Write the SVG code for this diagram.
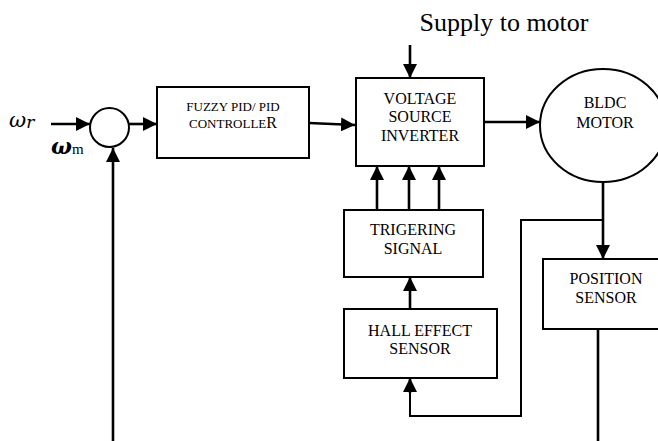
<svg xmlns="http://www.w3.org/2000/svg" width="658" height="441" viewBox="0 0 658 441">
<style>
.box{fill:#fff;stroke:#000;stroke-width:2}
.t{font-family:"Liberation Serif","Times New Roman",serif;fill:#000;text-anchor:middle}
.m16{font-size:16px}
.m13{font-size:13px}
.ln{fill:none;stroke:#000;stroke-width:2.6}
.thin{fill:none;stroke:#000;stroke-width:2}
</style>
<defs>
<marker id="ah" markerUnits="userSpaceOnUse" markerWidth="14" markerHeight="14" refX="14" refY="7" orient="auto" viewBox="0 0 14 14">
<path d="M0,0 L14,7 L0,14 z" fill="#000"/>
</marker>
</defs>
<rect width="658" height="441" fill="#fff"/>

<g id="connectors">
<line class="ln" x1="51" y1="124" x2="90" y2="124" marker-end="url(#ah)"/>
<line class="ln" x1="129" y1="124" x2="157" y2="124" marker-end="url(#ah)"/>
<line class="ln" x1="309" y1="123" x2="355" y2="125" marker-end="url(#ah)"/>
<line class="ln" x1="410" y1="45" x2="410" y2="78" marker-end="url(#ah)"/>
<line class="ln" x1="484" y1="122" x2="540" y2="122" marker-end="url(#ah)"/>
<line class="ln" x1="377" y1="210" x2="377" y2="166" marker-end="url(#ah)"/>
<line class="ln" x1="409" y1="210" x2="409" y2="166" marker-end="url(#ah)"/>
<line class="ln" x1="439" y1="210" x2="439" y2="166" marker-end="url(#ah)"/>
<line class="ln" x1="410" y1="309" x2="410" y2="277" marker-end="url(#ah)"/>
<line class="ln" x1="603" y1="182" x2="603" y2="259" marker-end="url(#ah)"/>
<polyline class="thin" points="603,220 521,220 521,416 410,416 410,392"/>
<line class="ln" x1="410" y1="393" x2="410" y2="378" marker-end="url(#ah)"/>
<line class="ln" x1="598" y1="329" x2="598" y2="441"/>
<line class="ln" x1="113" y1="441" x2="113" y2="148" marker-end="url(#ah)"/>
</g>

<g id="inputs">
<text x="9" y="127" style="font-family:'DejaVu Serif',serif;font-size:21px;font-style:italic">ω<tspan dy="1" style="font-size:17px">r</tspan></text>
<text x="51" y="154" style="font-family:'DejaVu Serif',serif;font-size:22px;font-style:italic;font-weight:bold">ω<tspan style="font-family:'Liberation Serif',serif;font-size:15px;font-style:normal;font-weight:normal">m</tspan></text>
</g>

<g id="summer">
<circle cx="109.5" cy="127.5" r="19.5" fill="#fff" stroke="#000" stroke-width="2"/>
</g>

<g id="fuzzy">
<rect class="box" x="157" y="87" width="152" height="71"/>
<text class="t m13" x="233" y="111">FUZZY PID/ PID</text>
<text class="t m13" x="233" y="128">CONTROLLE<tspan style="font-size:16px">R</tspan></text>
</g>

<g id="supply">
<text class="t" x="504" y="31" style="font-size:26px">Supply to motor</text>
</g>

<g id="vsi">
<rect class="box" x="356" y="78" width="128" height="88"/>
<text class="t m16" x="420" y="104">VOLTAGE</text>
<text class="t m16" x="420" y="122">SOURCE</text>
<text class="t m16" x="420" y="141">INVERTER</text>
</g>

<g id="motor">
<ellipse cx="603" cy="125.5" rx="63" ry="56.5" fill="#fff" stroke="#000" stroke-width="2"/>
<text class="t m16" x="605" y="108">BLDC</text>
<text class="t m16" x="605" y="128">MOTOR</text>
</g>

<g id="trigger">
<rect class="box" x="344" y="210" width="139" height="67"/>
<text class="t m16" x="413" y="235">TRIGERING</text>
<text class="t m16" x="413" y="254">SIGNAL</text>
</g>

<g id="hall">
<rect class="box" x="344" y="309" width="153" height="69"/>
<text class="t m16" x="420" y="336">HALL EFFECT</text>
<text class="t m16" x="420" y="354">SENSOR</text>
</g>

<g id="position">
<rect class="box" x="543" y="259" width="130" height="70"/>
<text class="t m16" x="606" y="284">POSITION</text>
<text class="t m16" x="606" y="303">SENSOR</text>
</g>
</svg>
